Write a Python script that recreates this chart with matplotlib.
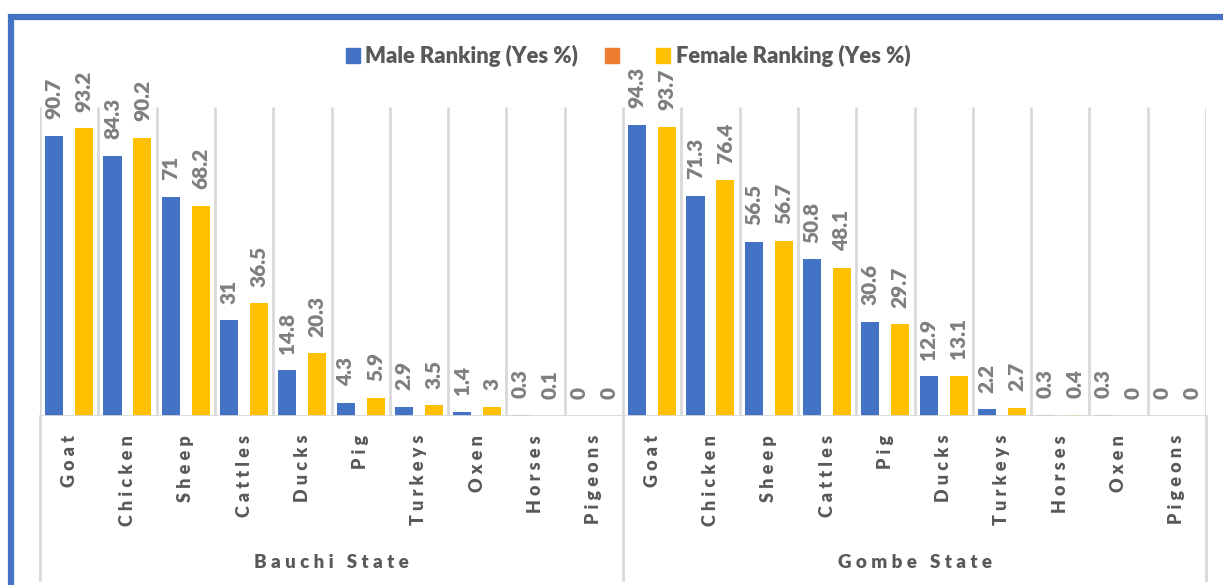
import numpy as np
import matplotlib.pyplot as plt
from matplotlib.patches import Patch, Rectangle
import matplotlib.transforms as mtransforms

# data
states = ["Bauchi State", "Gombe State"]
bauchi_animals = ["Goat", "Chicken", "Sheep", "Cattles", "Ducks", "Pig", "Turkeys", "Oxen", "Horses", "Pigeons"]
bauchi_male = [90.7, 84.3, 71, 31, 14.8, 4.3, 2.9, 1.4, 0.3, 0]
bauchi_female = [93.2, 90.2, 68.2, 36.5, 20.3, 5.9, 3.5, 3, 0.1, 0]
gombe_animals = ["Goat", "Chicken", "Sheep", "Cattles", "Pig", "Ducks", "Turkeys", "Horses", "Oxen", "Pigeons"]
gombe_male = [94.3, 71.3, 56.5, 50.8, 30.6, 12.9, 2.2, 0.3, 0.3, 0]
gombe_female = [93.7, 76.4, 56.7, 48.1, 29.7, 13.1, 2.7, 0.4, 0, 0]

BLUE = "#4472C4"
ORANGE = "#ED7D31"
GOLD = "#FFC000"
GRID = "#D9D9D9"
FONT = ["Lato", "DejaVu Sans"]

plt.rcParams["font.family"] = FONT


def spaced(s, sep=" "):
    # excel-style expanded character spacing
    return sep.join(s)


labels = bauchi_animals + gombe_animals
male = bauchi_male + gombe_male
female = bauchi_female + gombe_female
x = np.arange(len(labels))
n_per = len(bauchi_animals)

fig = plt.figure(figsize=(12.23, 5.85), dpi=100)
ax = fig.add_axes([40 / 1223, (585 - 416) / 585, (1206 - 40) / 1223, (416 - 107.4) / 585])

w = 0.31
off = 0.257
b1 = ax.bar(x - off, male, w, color=BLUE, zorder=3)
b2 = ax.bar(x + off, female, w, color=GOLD, zorder=3)

ax.set_xlim(-0.5, len(labels) - 0.5)
ax.set_ylim(0, 100)
for s in ax.spines.values():
    s.set_visible(False)
ax.set_xticks([])
ax.set_yticks([])

# category separators
bounds = np.arange(len(labels) + 1) - 0.5
ax.vlines(bounds, 0, 100, color=GRID, lw=2, zorder=1)
ax.axhline(0, color=GRID, lw=2, zorder=4)
tr = mtransforms.blended_transform_factory(ax.transData, ax.transAxes)
below = (416 - 580) / (416 - 107.4)
for b in [bounds[0], bounds[n_per], bounds[-1]]:
    ax.plot([b, b], [0, below], color=GRID, lw=2, transform=tr, clip_on=False)

# value labels
for bars, vals in [(b1, male), (b2, female)]:
    for r, v in zip(bars, vals):
        ax.annotate(f"{v:g}", (r.get_x() + r.get_width() / 2, r.get_height()),
                    xytext=(0, 12), textcoords="offset points", rotation=90,
                    ha="center", va="bottom", fontsize=15, fontweight="heavy",
                    color="#7F7F7F")

# category labels
lab_y = (416 - 435) / (416 - 107.4)
for xi, lab in zip(x, labels):
    ax.text(xi, lab_y, spaced(lab), transform=tr, rotation=90, ha="center", va="top",
            fontsize=13, fontweight="heavy", color="#595959")

grp_y = (416 - 563) / (416 - 107.4)
for i, st in enumerate(states):
    cx = i * n_per + (n_per - 1) / 2
    ax.text(cx, grp_y, spaced(st), transform=tr, ha="center", va="center",
            fontsize=13.5, fontweight="heavy", color="#595959")

# legend
handles = [Patch(color=BLUE), Patch(color=ORANGE), Patch(color=GOLD)]
fig.legend(handles, ["Male Ranking (Yes %)", " ", "Female Ranking (Yes %)"],
           loc="center", bbox_to_anchor=(628 / 1223, 1 - 56 / 585), ncol=3,
           frameon=False, handlelength=0.65, handleheight=0.65, handletextpad=0.25,
           columnspacing=1.2, prop={"size": 15.8, "weight": "heavy"}, labelcolor="#595959")

# chart border
fig.patches.append(Rectangle((11 / 1223, -0.05), 1.2, 1 - 17 / 585 + 0.05,
                             transform=fig.transFigure, fill=False, ec=BLUE, lw=4.5,
                             zorder=10))

fig.savefig("out.png", dpi=100)
